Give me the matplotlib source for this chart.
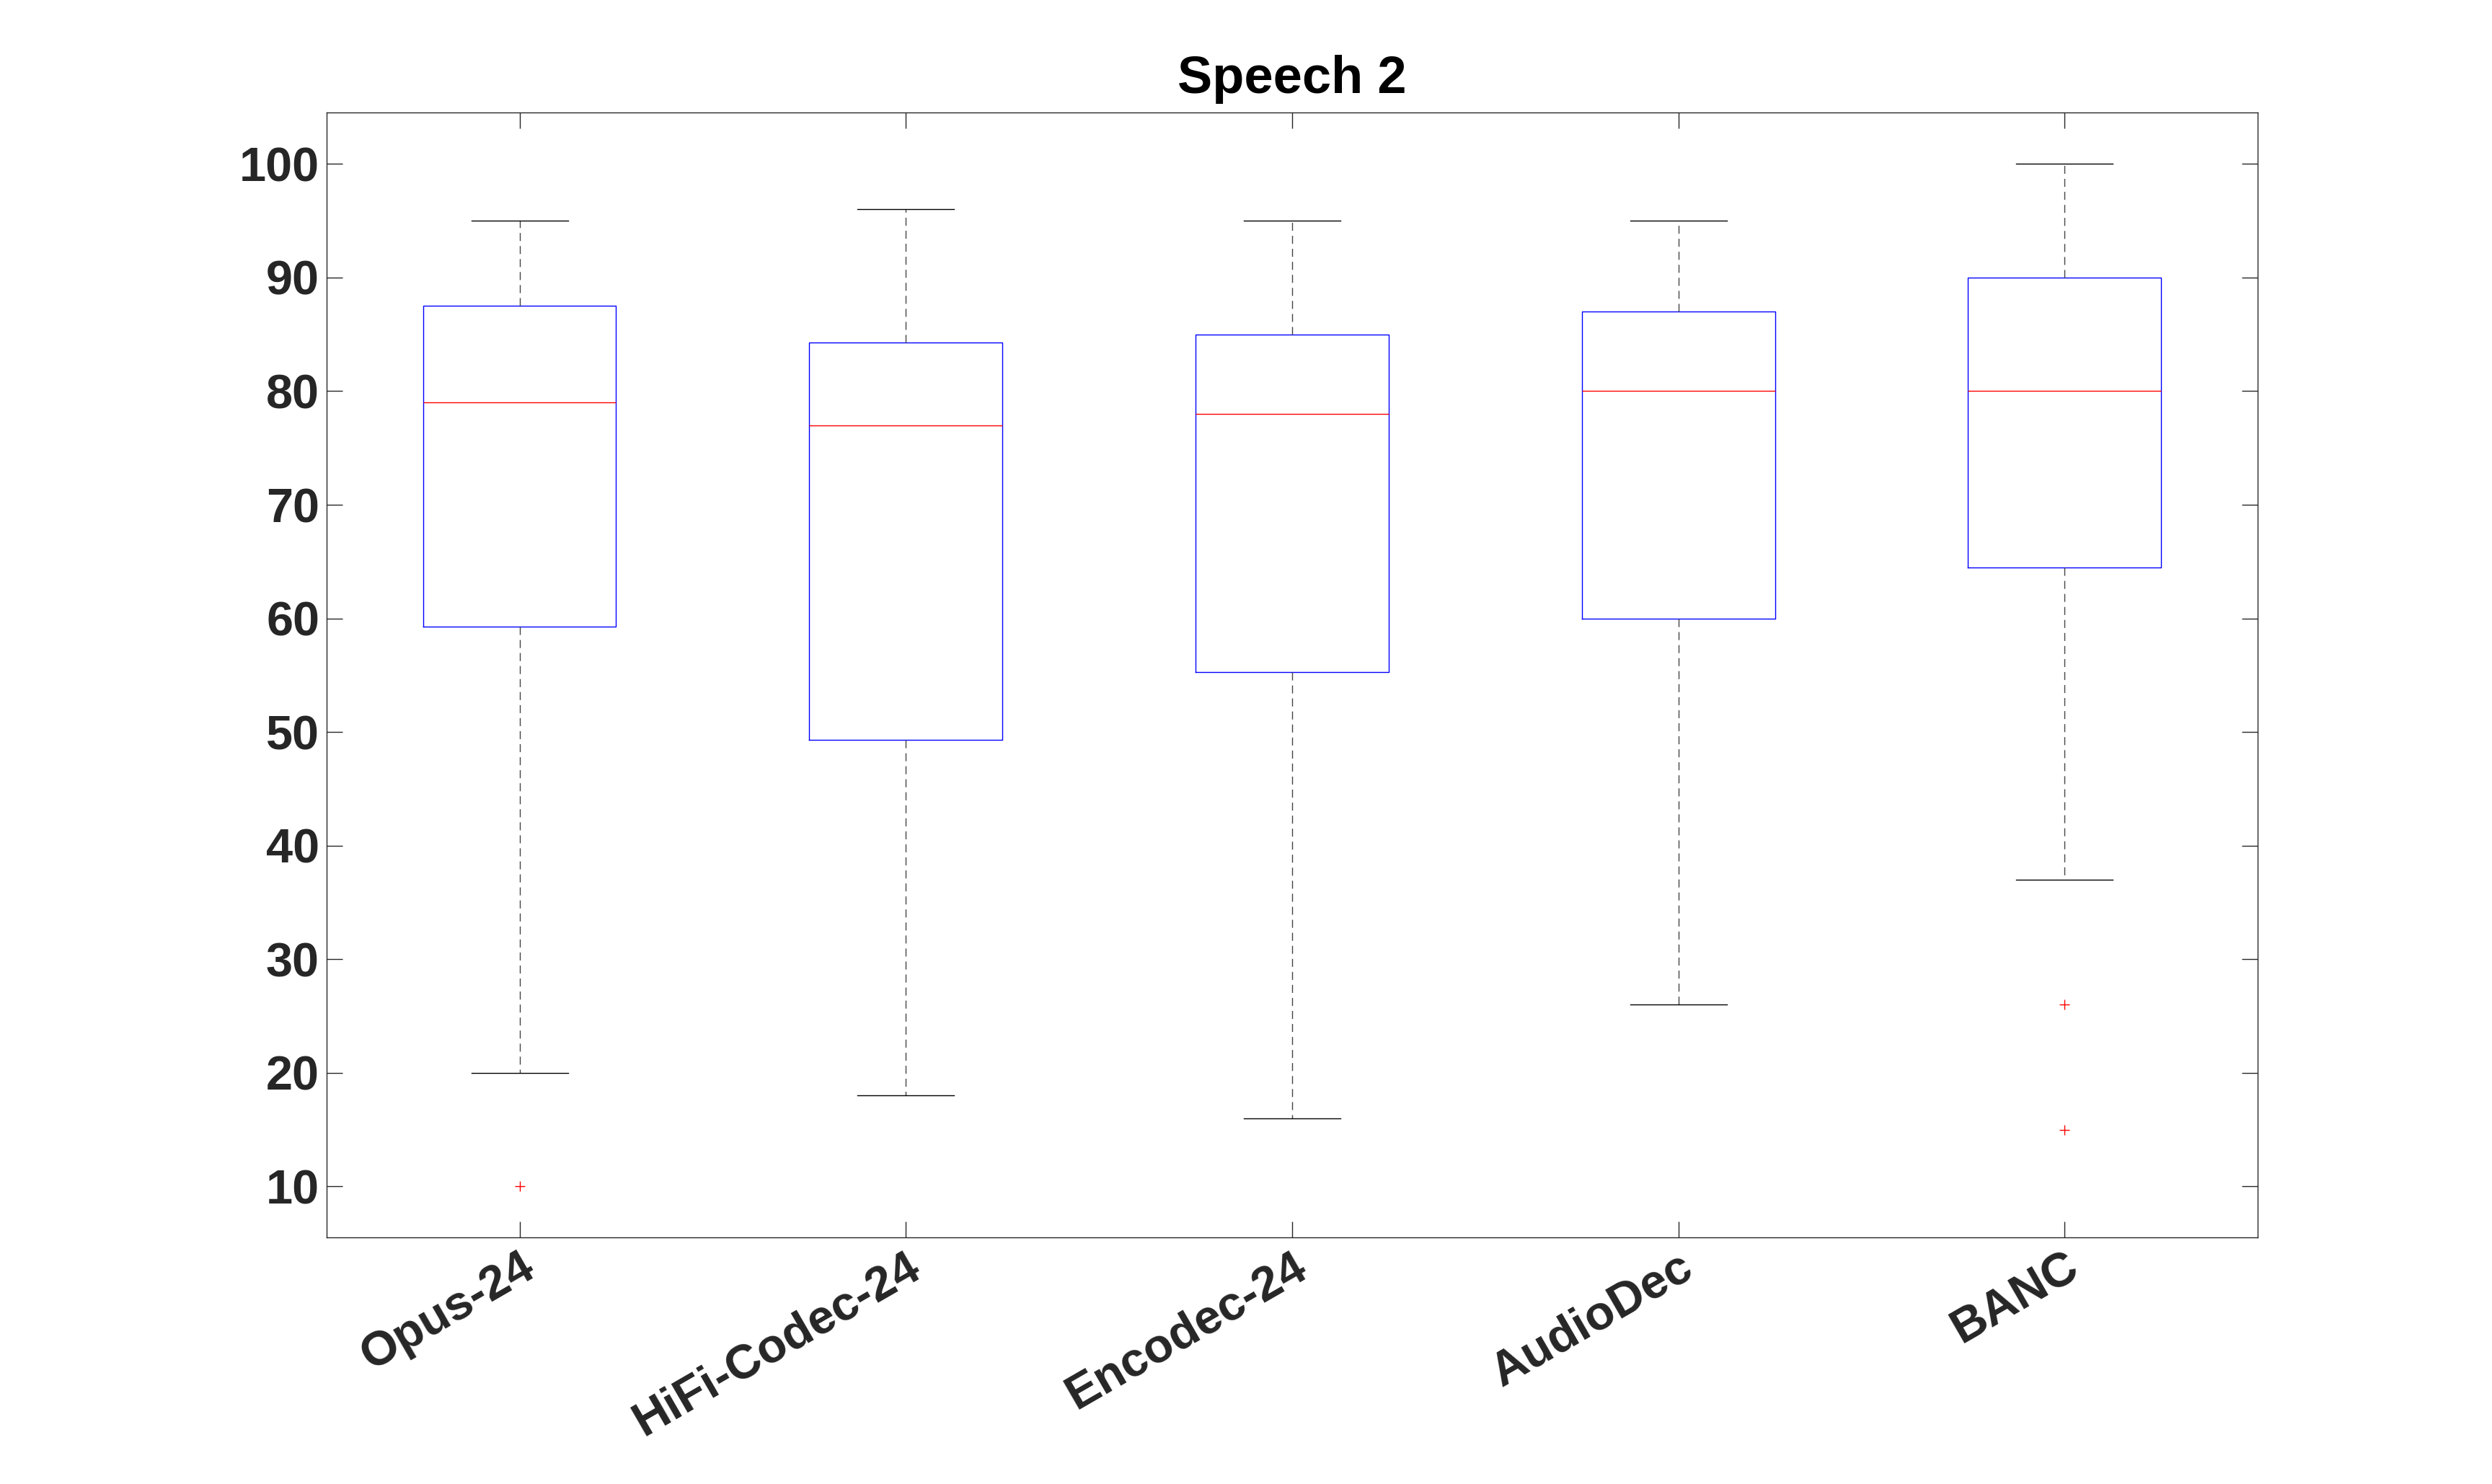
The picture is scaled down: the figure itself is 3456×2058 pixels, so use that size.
import matplotlib
matplotlib.use("Agg")
import matplotlib.pyplot as plt

# Box statistics
codecs = ["Opus-24", "HiFi-Codec-24", "Encodec-24", "AudioDec", "BANC"]
whisker_low = [20, 18, 16, 26, 37]
quartile_1 = [59.3, 49.3, 55.3, 60, 64.5]
medians = [79, 77, 78, 80, 80]
quartile_3 = [87.5, 84.3, 85, 87, 90]
whisker_high = [95, 96, 95, 95, 100]
outliers = [[10], [], [], [], [26, 15]]
y_ticks = [10, 20, 30, 40, 50, 60, 70, 80, 90, 100]

plt.rcParams['font.family'] = ['Liberation Sans', 'DejaVu Sans']
plt.rcParams['font.weight'] = 'bold'

stats = []
for i, name in enumerate(codecs):
    stats.append({
        'label': name,
        'whislo': whisker_low[i],
        'q1': quartile_1[i],
        'med': medians[i],
        'q3': quartile_3[i],
        'whishi': whisker_high[i],
        'fliers': outliers[i],
    })

fig = plt.figure(figsize=(17.28, 10.29), dpi=200)
ax = fig.add_axes([0.131, 0.166, 0.775, 0.758])

ax.bxp(stats, widths=0.5,
       boxprops=dict(color='blue', linewidth=0.5),
       medianprops=dict(color='red', linewidth=0.5),
       whiskerprops=dict(color='#444444', linewidth=0.5, linestyle=(0, (8, 5))),
       capprops=dict(color='black', linewidth=0.5),
       flierprops=dict(marker='+', markeredgecolor='red', markersize=5, markeredgewidth=0.5))

ax.set_xlim(0.5, 5.5)
ax.set_ylim(5.5, 104.5)
ax.set_yticks(y_ticks)
ax.tick_params(direction='in', top=True, right=True, length=8, width=0.5,
               labelsize=24, colors='#262626')
for lbl in ax.get_xticklabels():
    lbl.set_rotation(30)
    lbl.set_ha('right')
    lbl.set_rotation_mode('anchor')
for s in ax.spines.values():
    s.set_linewidth(0.5)
    s.set_color('#262626')

ax.set_title("Speech 2", fontsize=26, fontweight='bold', pad=10)

fig.savefig("out.png")
